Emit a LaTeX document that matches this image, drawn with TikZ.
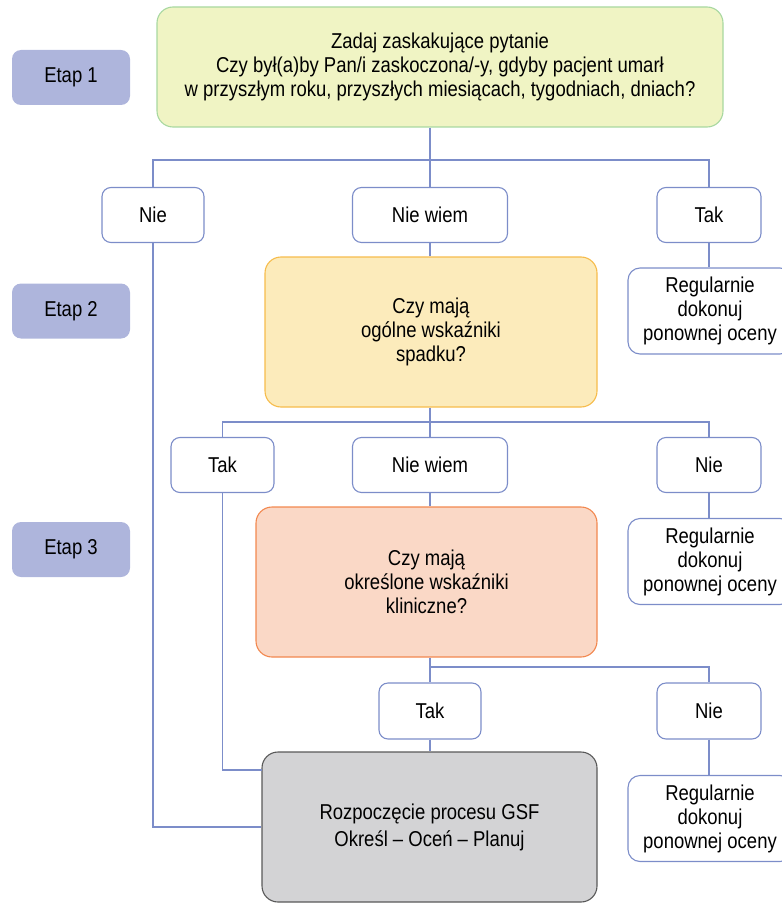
\documentclass[tikz,border=0pt]{standalone}
\usepackage{fontspec}
\setmainfont[FakeStretch=0.86]{Liberation Sans}
\definecolor{lnc}{HTML}{7C8DC9}
\definecolor{etapf}{HTML}{AEB5DC}
\definecolor{topf}{HTML}{F0F4C4}
\definecolor{topd}{HTML}{A8D8A0}
\definecolor{yelf}{HTML}{FCEBBB}
\definecolor{yeld}{HTML}{F6BC4C}
\definecolor{pchf}{HTML}{FAD8C6}
\definecolor{pchd}{HTML}{F2884F}
\definecolor{gryf}{HTML}{D3D3D5}
\definecolor{gryd}{HTML}{595959}
\tikzset{
  base/.style={rectangle, rounded corners=9pt, align=center, inner sep=0pt, font=\fontsize{21.5}{24}\selectfont, line width=1.1pt},
  etap/.style={base, fill=etapf, draw=none, minimum width=118pt, minimum height=55pt},
  ans/.style={base, draw=lnc, fill=white, minimum height=55pt},
  reg/.style={base, draw=lnc, fill=white, minimum width=164pt, minimum height=86pt, rounded corners=12pt},
  big/.style={base, rounded corners=16pt},
  conn/.style={draw=lnc, line width=1.1pt}
}
\begin{document}
\begin{tikzpicture}[x=1pt,y=-1pt]
\useasboundingbox (0,0) rectangle (781,904);
% stage labels
\node[etap] (e1) at (71,77.5) {Etap 1};
\node[etap] (e2) at (71,311) {Etap 2};
\node[etap] (e3) at (71,549.5) {Etap 3};
% main boxes
\node[big, draw=topd, fill=topf, minimum width=566pt, minimum height=120pt] (top) at (440,67) {Zadaj zaskakujące pytanie\\Czy był(a)by Pan/i zaskoczona/-y, gdyby pacjent umarł\\w przyszłym roku, przyszłych miesiącach, tygodniach, dniach?};
\node[big, draw=yeld, fill=yelf, minimum width=332pt, minimum height=150pt] (q2) at (431,332) {Czy mają\\ogólne wskaźniki\\spadku?};
\node[big, draw=pchd, fill=pchf, minimum width=341pt, minimum height=150pt] (q3) at (426.5,582) {Czy mają\\określone wskaźniki\\kliniczne?};
\node[big, draw=gryd, fill=gryf, minimum width=335pt, minimum height=150pt, font=\fontsize{21.5}{27}\selectfont] (gsf) at (429.5,827) {Rozpoczęcie procesu GSF\\Określ – Oceń – Planuj};
% level 1 answers
\node[ans, minimum width=102pt] (a1n) at (153,215) {Nie};
\node[ans, minimum width=155pt] (a1w) at (430,215) {Nie wiem};
\node[ans, minimum width=104pt] (a1t) at (709,215) {Tak};
\node[reg] (r1) at (710,311) {Regularnie\\dokonuj\\ponownej oceny};
% level 2 answers
\node[ans, minimum width=103pt] (a2t) at (222.5,465) {Tak};
\node[ans, minimum width=155pt] (a2w) at (430,465) {Nie wiem};
\node[ans, minimum width=104pt] (a2n) at (709,465) {Nie};
\node[reg] (r2) at (710,561.5) {Regularnie\\dokonuj\\ponownej oceny};
% level 3 answers
\node[ans, minimum width=102pt, minimum height=56pt] (a3t) at (430,711) {Tak};
\node[ans, minimum width=104pt, minimum height=56pt] (a3n) at (709,711) {Nie};
\node[reg] (r3) at (710,818.5) {Regularnie\\dokonuj\\ponownej oceny};
% connectors
\coordinate (h1) at (430,160);
\draw[conn] (a1w.north |- top.south) -- (a1w.north);
\draw[conn] (a1n.north) -- (a1n.north |- h1) -- (a1t.north |- h1) -- (a1t.north);
\draw[conn] (a1w.south) -- (a1w.south |- q2.north);
\draw[conn] (a1t.south) -- (a1t.south |- r1.north);
\draw[conn] (a1n.south) -- (a1n.south |- gsf.west) -- (gsf.west);
\coordinate (h2) at (430,422);
\draw[conn] (a2w.north |- q2.south) -- (a2w.north);
\draw[conn] (a2t.north) -- (a2t.north |- h2) -- (a2n.north |- h2) -- (a2n.north);
\draw[conn] (a2w.south) -- (a2w.south |- q3.north);
\draw[conn] (a2n.south) -- (a2n.south |- r2.north);
\coordinate (g2) at (262,770);
\draw[conn] (a2t.south) -- (a2t.south |- g2) -- (g2);
\coordinate (h3) at (430,667);
\draw[conn] (a3t.north |- q3.south) -- (a3t.north);
\draw[conn] (h3) -- (a3n.north |- h3) -- (a3n.north);
\draw[conn] (a3t.south) -- (a3t.south |- gsf.north);
\draw[conn] (a3n.south) -- (a3n.south |- r3.north);
\end{tikzpicture}
\end{document}
